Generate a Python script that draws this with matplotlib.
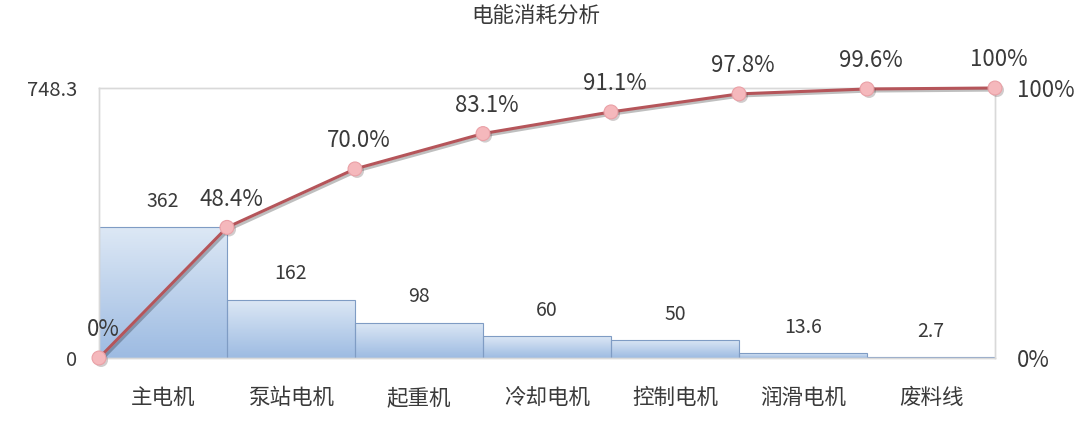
import numpy as np
import matplotlib
matplotlib.use("Agg")
import matplotlib.pyplot as plt
import matplotlib.patheffects as pe
from matplotlib.colors import LinearSegmentedColormap

plt.rcParams['font.family'] = ['Noto Sans CJK SC', 'DejaVu Sans']
plt.rcParams['font.weight'] = 'light'

categories = ["主电机", "泵站电机", "起重机", "冷却电机", "控制电机", "润滑电机", "废料线"]
values = [362, 162, 98, 60, 50, 13.6, 2.7]
value_labels = ["362", "162", "98", "60", "50", "13.6", "2.7"]
cum_pct_labels = ["0%", "48.4%", "70.0%", "83.1%", "91.1%", "97.8%", "99.6%", "100%"]
title = "电能消耗分析"

total = sum(values)
cum = np.concatenate([[0], np.cumsum(values)]) / total

W, H = 1080, 423
fig = plt.figure(figsize=(W / 100, H / 100), dpi=100)
ax = fig.add_axes([99 / W, 1 - 358 / H, (995 - 99) / W, (358 - 88) / H])
ax2 = ax.twinx()

n = len(values)

cmap = LinearSegmentedColormap.from_list("g", ["#9dbbe2", "#dde8f5"])
grad = np.linspace(0, 1, 256).reshape(-1, 1)
bars = ax.bar(np.arange(n) + 0.5, values, width=1.0, color="none",
              edgecolor="#7f9cc4", linewidth=0.8, zorder=2)
for b in bars:
    x0, y0 = b.get_x(), b.get_y()
    w, h = b.get_width(), b.get_height()
    im = ax.imshow(grad, cmap=cmap, aspect="auto", origin="lower",
                   extent=[x0, x0 + w, y0, y0 + h], zorder=1)
    im.set_clip_path(b)
ax.set_xlim(0, n)
ax.set_ylim(0, total)
ax2.set_ylim(0, 1)

txtc = "#3a3a3a"
for i, (v, lab) in enumerate(zip(values, value_labels)):
    ax.annotate(lab, (i + 0.5, v), xytext=(0, 11), textcoords="offset points",
                ha="center", va="bottom", fontsize=14, color=txtc)

xs = np.arange(n + 1)
ax2.plot(xs, cum, color="#b5555a", linewidth=2.2, zorder=5, clip_on=False,
         path_effects=[pe.SimpleLineShadow(offset=(1.5, -1.5), alpha=0.25), pe.Normal()])
ax2.plot(xs, cum, linestyle="none", marker="o", markersize=10, clip_on=False,
         markerfacecolor="#f5b8bc", markeredgecolor="#eaa0a6", markeredgewidth=0.8,
         zorder=6, path_effects=[pe.SimplePatchShadow(offset=(1.5, -1.5), alpha=0.25), pe.Normal()])
for x, y, lab in zip(xs, cum, cum_pct_labels):
    ax2.annotate(lab, (x, y), xytext=(3, 12), textcoords="offset points",
                 ha="center", va="bottom", fontsize=16, color=txtc)

ax.set_xticks(np.arange(n) + 0.5)
ax.set_xticklabels(categories, fontsize=15.5, color=txtc)
ax.set_yticks([0, total])
ax.set_yticklabels(["0", "748.3"], fontsize=14.5, color=txtc)
ax2.set_yticks([0, 1])
ax2.set_yticklabels(["0%", "100%"], fontsize=16, color=txtc)
ax.tick_params(axis="x", length=0, pad=21)
ax.tick_params(axis="y", length=0, pad=16)
ax2.tick_params(axis="y", length=0, pad=16)

for a in (ax, ax2):
    for s in a.spines.values():
        s.set_color("#d9d9d9")
        s.set_linewidth(1.0)

fig.text(536 / W, 1 - 16 / H, title, ha="center", va="center", fontsize=15.5, color=txtc)

fig.savefig("out.png", dpi=100)
